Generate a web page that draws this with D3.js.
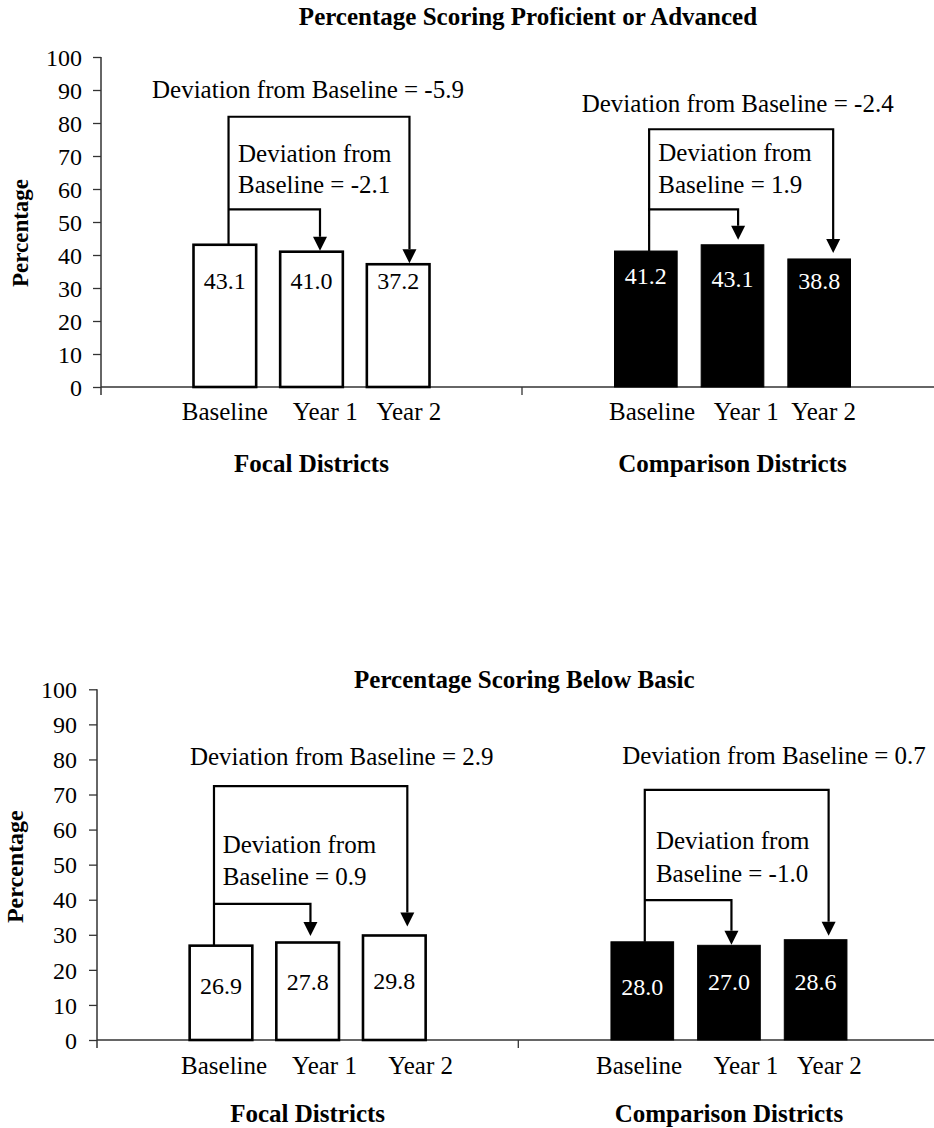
<!DOCTYPE html>
<html>
<head>
<meta charset="utf-8">
<script src="https://cdn.jsdelivr.net/npm/d3@7"></script>
<style>
  body { margin: 0; background: #fff; }
  svg text { font-family: "Liberation Serif", "Times New Roman", serif; }
</style>
</head>
<body>
<svg id="chart" width="934" height="1128"></svg>
<script>
// ---- data ----
const periods = ["Baseline", "Year 1", "Year 2"];
const groups = ["Focal Districts", "Comparison Districts"];
const yTicks = [0, 10, 20, 30, 40, 50, 60, 70, 80, 90, 100];
const panelTitles = ["Percentage Scoring Proficient or Advanced", "Percentage Scoring Below Basic"];
const yAxisTitle = "Percentage";

const proficientFocal = [43.1, 41.0, 37.2];
const proficientComparison = [41.2, 43.1, 38.8];
const belowBasicFocal = [26.9, 27.8, 29.8];
const belowBasicComparison = [28.0, 27.0, 28.6];

// deviation from baseline: [Year 1, Year 2]
const proficientFocalDeviation = ["-2.1", "-5.9"];
const proficientComparisonDeviation = ["1.9", "-2.4"];
const belowBasicFocalDeviation = ["0.9", "2.9"];
const belowBasicComparisonDeviation = ["-1.0", "0.7"];

// ---- layout ----
// periodSpaces: [leading, after Baseline, after Year 1] non-breaking spaces
const panels = [
  {
    title: panelTitles[0],
    values: [proficientFocal, proficientComparison],
    deviations: [proficientFocalDeviation, proficientComparisonDeviation],
    left: 101, top: 57, bottom: 387, band: 421,
    titleY: 25, tickPad: 11,
    yTitleX: 28, yTitleShift: 11, yTitleSize: 23,
    periodSpaces: [[0, 4, 3], [0, 3, 2]],
    periodDy: 33, groupDy: 85,
    labelLevels: [[29.7, 29.7, 29.7], [31.2, 30.3, 29.7]],
    notes: [
      { start: 3.7, mid: 8.5, end: 11.3, inner: 53.85, outer: 81.9, gapIn: 1, gapOut: 1,
        outerDx: -159.5, outerV: 87.6, innerDx: -73.5, innerV: [68.2, 58.8] },
      { start: 3.3, mid: 5.6, end: 14, inner: 53.85, outer: 78.1, gapIn: 5, gapOut: 6,
        outerDx: -150.8, outerV: 83.4, innerDx: -74.2, innerV: [68.5, 58.9] }
    ]
  },
  {
    title: panelTitles[1],
    values: [belowBasicFocal, belowBasicComparison],
    deviations: [belowBasicFocalDeviation, belowBasicComparisonDeviation],
    left: 97, top: 689.3, bottom: 1040, band: 421.3,
    titleY: 688, tickPad: 12,
    yTitleX: 23, yTitleShift: 2, yTitleSize: 24,
    periodSpaces: [[3, 4, 5], [0, 5, 3]],
    periodDy: 34, groupDy: 82,
    labelLevels: [[13.1, 14.3, 14.5], [12.8, 14.3, 14.3]],
    notes: [
      { start: -7, mid: 2.8, end: 13, inner: 38.8, outer: 72.4, gapIn: 6.5, gapOut: 9,
        outerDx: -117.7, outerV: 78.4, innerDx: -85, innerV: [53.4, 44.2] },
      { start: 2.5, mid: 2.5, end: 13, inner: 39.9, outer: 71.3, gapIn: 0.5, gapOut: 4,
        outerDx: -106.7, outerV: 78.7, innerDx: -73, innerV: [54.4, 45.1] }
    ]
  }
];

const svg = d3.select("#chart");
const W = 934;

function drawPanel(p) {
  const g = svg.append("g");
  const y = d3.scaleLinear().domain([0, 100]).range([p.bottom, p.top]);
  const x = d3.scaleBand().domain(groups).range([p.left, p.left + 2 * p.band]);
  const xi = d3.scaleBand().domain(periods).range([-130, 130])
    .paddingInner(0.277).paddingOuter(0.1385);

  // chart title
  g.append("text")
    .attr("x", p.left + p.band + 6).attr("y", p.titleY)
    .attr("text-anchor", "middle")
    .style("font-size", "25px").style("font-weight", "bold")
    .text(p.title);

  // y axis
  const yAxis = d3.axisLeft(y).tickValues(yTicks).tickSize(8).tickPadding(p.tickPad).tickSizeOuter(0);
  const ya = g.append("g").attr("transform", `translate(${p.left},0)`).call(yAxis);
  ya.select(".domain").remove();
  ya.selectAll(".tick line").attr("stroke", "#333").attr("stroke-width", 1.3);
  ya.selectAll(".tick text")
    .attr("fill", "#000")
    .style("font-size", "24px")
    .style("font-family", "'Liberation Serif','Times New Roman',serif")
    .attr("dy", "0.34em");
  g.append("line")
    .attr("x1", p.left).attr("x2", p.left)
    .attr("y1", y(100)).attr("y2", y(0) + 8)
    .attr("stroke", "#333").attr("stroke-width", 1.5);

  // y axis title
  g.append("text")
    .attr("transform", `translate(${p.yTitleX},${y(50) + p.yTitleShift}) rotate(-90)`)
    .attr("text-anchor", "middle")
    .style("font-size", p.yTitleSize + "px").style("font-weight", "bold")
    .text(yAxisTitle);

  // x axis line and group separators
  g.append("line")
    .attr("x1", p.left).attr("x2", W)
    .attr("y1", y(0)).attr("y2", y(0))
    .attr("stroke", "#333").attr("stroke-width", 1.5);
  groups.forEach(gn => {
    const xe = x(gn) + x.bandwidth();
    g.append("line")
      .attr("x1", xe).attr("x2", xe)
      .attr("y1", y(0)).attr("y2", y(0) + 8)
      .attr("stroke", "#333").attr("stroke-width", 1.3);
  });

  groups.forEach((gn, gi) => {
    const cx = x(gn) + x.bandwidth() / 2;
    const vals = p.values[gi];
    const dev = p.deviations[gi];
    const solid = gi === 1;
    const barCenter = i => cx + xi(periods[i]) + xi.bandwidth() / 2;

    // bars
    g.selectAll(null).data(vals).enter().append("rect")
      .attr("x", (d, i) => cx + xi(periods[i]))
      .attr("width", xi.bandwidth())
      .attr("y", d => y(d))
      .attr("height", d => y(0) - y(d))
      .attr("fill", solid ? "#000" : "#fff")
      .attr("stroke", "#000")
      .attr("stroke-width", solid ? 1 : 2.6);

    // value labels
    g.selectAll(null).data(vals).enter().append("text")
      .attr("x", (d, i) => barCenter(i))
      .attr("y", (d, i) => y(p.labelLevels[gi][i]))
      .attr("text-anchor", "middle")
      .attr("fill", solid ? "#fff" : "#000")
      .style("font-size", "24px")
      .text(d => d.toFixed(1));

    // period labels (one spaced line under each group)
    const sp = p.periodSpaces[gi];
    const nb = n => "\u00A0".repeat(n);
    g.append("text")
      .attr("x", cx).attr("y", y(0) + p.periodDy)
      .attr("text-anchor", "middle")
      .style("font-size", "25px")
      .text(nb(sp[0]) + periods[0] + nb(sp[1]) + periods[1] + nb(sp[2]) + periods[2]);

    // group label
    g.append("text")
      .attr("x", cx).attr("y", y(0) + p.groupDy)
      .attr("text-anchor", "middle")
      .style("font-size", "25px").style("font-weight", "bold")
      .text(gn);

    // deviation brackets
    const n = p.notes[gi];
    const x0 = barCenter(0) + n.start;
    const x1 = barCenter(1) + n.mid;
    const x2 = barCenter(2) + n.end;
    const tip1 = y(vals[1]) - n.gapIn;
    const tip2 = y(vals[2]) - n.gapOut;
    const head = 14, half = 7;
    g.append("path")
      .attr("d", `M${x0},${y(vals[0])}V${y(n.outer)}H${x2}V${tip2 - head}` +
                 `M${x0},${y(n.inner)}H${x1}V${tip1 - head}`)
      .attr("fill", "none").attr("stroke", "#000").attr("stroke-width", 2.2);
    [[x1, tip1], [x2, tip2]].forEach(([ax, ay]) => {
      g.append("path")
        .attr("d", `M${ax - half},${ay - head}L${ax + half},${ay - head}L${ax},${ay}Z`)
        .attr("fill", "#000");
    });

    // deviation text
    g.append("text")
      .attr("x", cx + n.outerDx).attr("y", y(n.outerV))
      .style("font-size", "25px")
      .text("Deviation from Baseline = " + dev[1]);
    g.append("text")
      .attr("x", cx + n.innerDx).attr("y", y(n.innerV[0]))
      .style("font-size", "25px")
      .text("Deviation from");
    g.append("text")
      .attr("x", cx + n.innerDx).attr("y", y(n.innerV[1]))
      .style("font-size", "25px")
      .text("Baseline = " + dev[0]);
  });
}

panels.forEach(drawPanel);
</script>
</body>
</html>
